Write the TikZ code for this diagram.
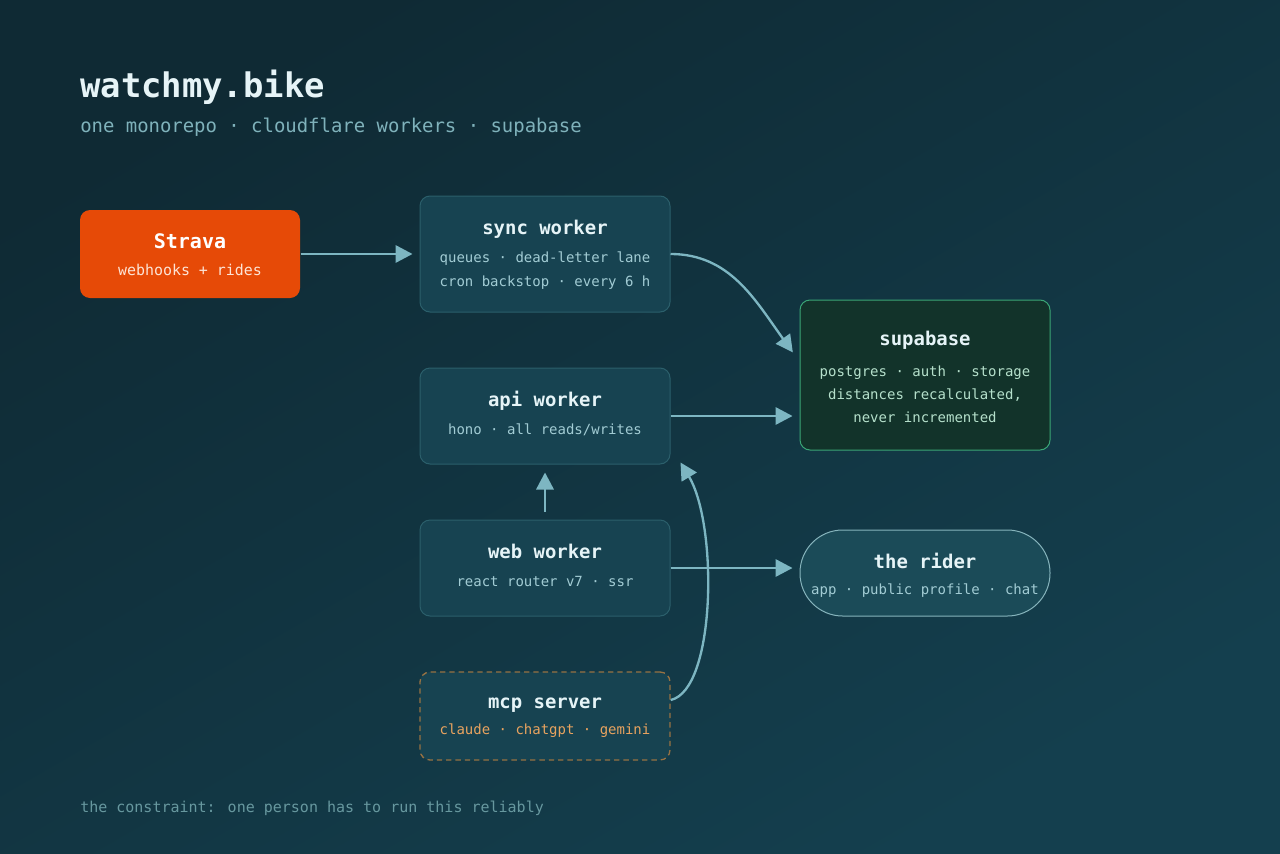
\documentclass[tikz,border=0pt]{standalone}
\usepackage{fontspec}
\newfontfamily\monofont{DejaVu Sans Mono}
\usetikzlibrary{arrows.meta}
\definecolor{bgtop}{HTML}{0F2A34}
\definecolor{bgbottom}{HTML}{143F4E}
\definecolor{boxfill}{HTML}{174351}
\definecolor{boxedge}{HTML}{2B5F6B}
\definecolor{stravafill}{HTML}{E64A07}
\definecolor{supafill}{HTML}{12332A}
\definecolor{supaedge}{HTML}{3AA676}
\definecolor{riderfill}{HTML}{1B4B58}
\definecolor{rideredge}{HTML}{86B4BC}
\definecolor{mcpedge}{HTML}{977243}
\definecolor{flowline}{HTML}{7DB6C2}
\definecolor{titletext}{HTML}{E6F4F7}
\definecolor{subtext}{HTML}{A2CCD4}
\definecolor{supatext}{HTML}{B5E0CB}
\definecolor{mcptext}{HTML}{E8A35F}
\definecolor{stravatext}{HTML}{FDE4D6}
\definecolor{headsub}{HTML}{7FB2BB}
\definecolor{foottext}{HTML}{67989F}
\tikzset{
  workerbox/.style={draw=boxedge, fill=boxfill, line width=0.75pt, rounded corners=7.5pt,
    minimum width=187.5pt, inner sep=0pt},
  boxtitle/.style={anchor=base, text=titletext, font=\monofont\bfseries\fontsize{14.2}{17}\selectfont},
  boxline/.style={anchor=base, text=subtext, font=\monofont\fontsize{10.5}{12}\selectfont},
  flow/.style={draw=flowline, line width=1.75pt, -{Triangle[length=12.75pt,width=13pt]}},
}
\begin{document}
\begin{tikzpicture}[x=0.75pt,y=-0.75pt]
% background
\shade[top color=bgtop, bottom color=bgbottom, shading angle=30] (0,0) rectangle (1280,853);
\useasboundingbox (0,0) rectangle (1280,853);

% heading
\node[anchor=base west, inner sep=0pt, text=titletext, font=\monofont\bfseries\fontsize{25.4}{30}\selectfont] (title) at (80,97) {watchmy.bike};
\node[anchor=base west, inner sep=0pt, text=headsub, font=\monofont\fontsize{14.2}{17}\selectfont] (subtitle) at (80,132) {one monorepo · cloudflare workers · supabase};

% boxes
\node[workerbox, draw=none, fill=stravafill, minimum width=165pt, minimum height=66pt] (strava) at (190,254) {};
\node[workerbox, minimum height=87pt] (sync) at (545,254) {};
\node[workerbox, minimum height=72pt] (api) at (545,416) {};
\node[workerbox, minimum height=72pt] (web) at (545,568) {};
\node[workerbox, draw=mcpedge, line width=1pt, dash pattern=on 4pt off 3pt, minimum height=66pt] (mcp) at (545,716) {};
\node[workerbox, draw=supaedge, fill=supafill, minimum height=112.5pt] (supabase) at (925,375) {};
\node[workerbox, draw=rideredge, fill=riderfill, rounded corners=32pt, minimum height=64.5pt] (rider) at (925,573) {};

% box texts
\node[boxtitle, text=white, font=\monofont\bfseries\fontsize{15}{18}\selectfont] (stravaname) at (190,248) {Strava};
\node[boxline, text=stravatext, font=\monofont\fontsize{11.2}{13}\selectfont] (stravanote) at (190,275) {webhooks + rides};
\node[boxtitle] (syncname) at (545,234) {sync worker};
\node[boxline] (syncnote) at (545,262) {queues · dead-letter lane};
\node[boxline] (synccron) at (545,286) {cron backstop · every 6 h};
\node[boxtitle] (apiname) at (545,406) {api worker};
\node[boxline] (apinote) at (545,434) {hono · all reads/writes};
\node[boxtitle] (webname) at (545,558) {web worker};
\node[boxline] (webnote) at (545,586) {react router v7 · ssr};
\node[boxtitle] (mcpname) at (545,708) {mcp server};
\node[boxline, text=mcptext] (mcpnote) at (545,734) {claude · chatgpt · gemini};
\node[boxtitle] (supaname) at (925,345) {supabase};
\node[boxline, text=supatext] (supanote) at (925,376) {postgres · auth · storage};
\node[boxline, text=supatext] (supadist) at (925,399) {distances recalculated,};
\node[boxline, text=supatext] (supanever) at (925,422) {never incremented};
\node[boxtitle] (ridername) at (925,568) {the rider};
\node[boxline] (ridernote) at (925,594) {app · public profile · chat};

% connectors
\coordinate (supain) at ([xshift=-5pt,yshift=17pt]supabase.west);
\coordinate (mcpout) at ([yshift=12pt]mcp.east);
\coordinate (apiin) at ([xshift=7.5pt,yshift=1.5pt]api.south east);
\draw[flow, shorten >=5.25pt] (strava.east) -- (sync.west);
\draw[flow] (sync.east) .. controls (730,254) and (755,300) .. (supain);
\draw[flow, shorten >=5.25pt] (api.east) -- (api.east -| supabase.west);
\draw[flow, shorten <=6pt, shorten >=6pt] (web.north) -- (api.south);
\draw[flow, shorten >=5.25pt] (web.east) -- (web.east -| rider.west);
\draw[flow] (mcpout) .. controls (716,690) and (718,525) .. (apiin);

% footer
\node[anchor=base west, inner sep=0pt, text=foottext, font=\monofont\fontsize{11.25}{13}\selectfont] (footer) at (80,812) {the constraint: one person has to run this reliably};
\end{tikzpicture}
\end{document}
